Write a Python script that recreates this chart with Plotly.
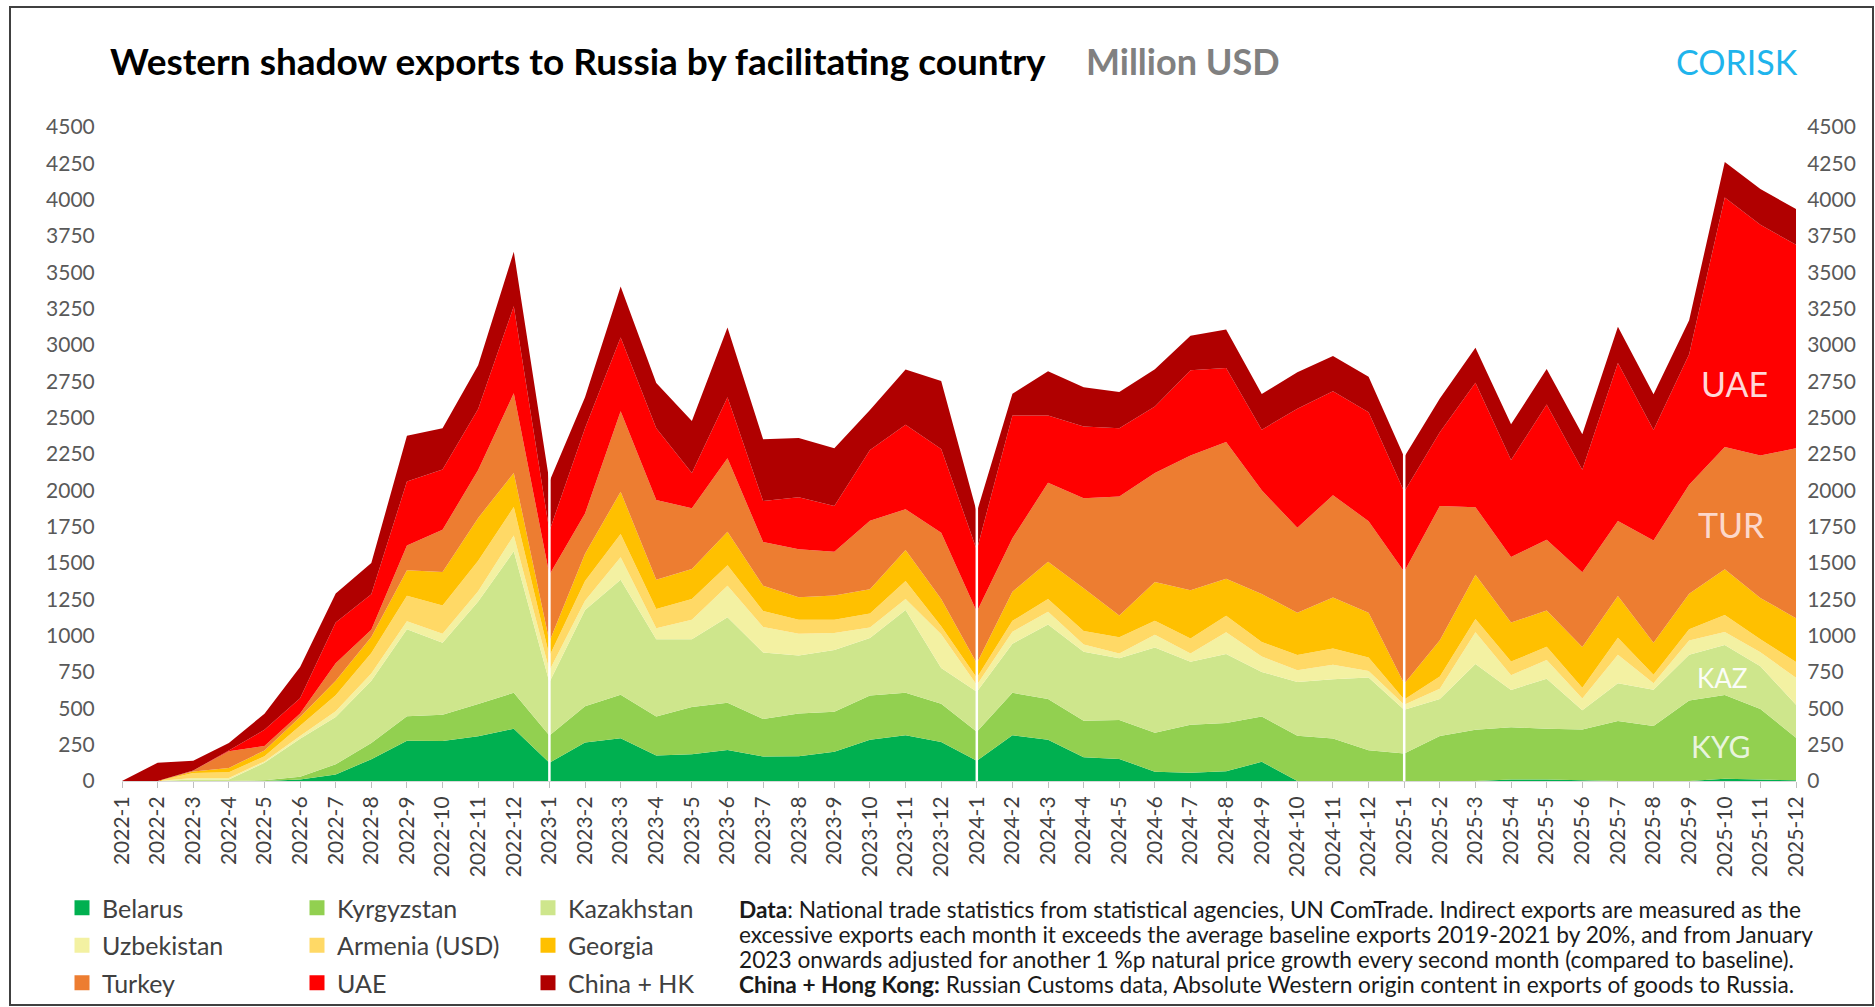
import plotly.graph_objects as go

# Monthly categories, 2022-1 .. 2025-12
months = [
    "2022-1", "2022-2", "2022-3", "2022-4", "2022-5", "2022-6", "2022-7", "2022-8", "2022-9", "2022-10", "2022-11", "2022-12",
    "2023-1", "2023-2", "2023-3", "2023-4", "2023-5", "2023-6", "2023-7", "2023-8", "2023-9", "2023-10", "2023-11", "2023-12",
    "2024-1", "2024-2", "2024-3", "2024-4", "2024-5", "2024-6", "2024-7", "2024-8", "2024-9", "2024-10", "2024-11", "2024-12",
    "2025-1", "2025-2", "2025-3", "2025-4", "2025-5", "2025-6", "2025-7", "2025-8", "2025-9", "2025-10", "2025-11", "2025-12",
]

# Western-origin exports to Russia routed via each country, million USD
belarus = [0, 0, 0, 0, 0, 10, 45, 150, 277, 275, 308, 360,
           125, 265, 295, 176, 184, 214, 169, 170, 202, 284, 314, 269,
           139, 314, 284, 164, 152, 64, 57, 67, 132, 0, 0, 0,
           0, 0, 0, 10, 10, 5, 0, 0, 0, 15, 10, 5]
kyrgyzstan = [0, 0, 0, 0, 5, 20, 70, 112, 168, 180, 222, 247,
              188, 250, 299, 268, 325, 325, 258, 294, 275, 305, 293, 263,
              200, 293, 280, 250, 267, 268, 330, 332, 312, 312, 292, 212,
              190, 309, 353, 359, 350, 349, 413, 378, 554, 577, 485, 293]
kazakhstan = [0, 0, 10, 10, 120, 260, 325, 428, 600, 497, 705, 973,
              367, 661, 790, 532, 467, 588, 457, 400, 425, 395, 570, 245,
              275, 337, 513, 475, 425, 587, 433, 475, 306, 370, 408, 500,
              300, 255, 452, 258, 344, 132, 259, 250, 315, 344, 294, 227]
uzbekistan = [0, 0, 10, 10, 10, 20, 40, 50, 55, 62, 70, 110,
              80, 64, 156, 75, 133, 217, 175, 150, 117, 73, 75, 232,
              46, 83, 87, 50, 33, 88, 57, 150, 107, 80, 100, 45,
              35, 70, 219, 101, 129, 82, 197, 44, 97, 89, 97, 185]
armenia = [0, 0, 35, 40, 35, 70, 110, 140, 175, 194, 210, 196,
           100, 137, 160, 133, 143, 140, 110, 95, 90, 95, 125, 55,
           50, 75, 88, 93, 112, 95, 103, 113, 100, 105, 112, 92,
           35, 85, 91, 94, 90, 74, 117, 59, 79, 117, 89, 109]
georgia = [0, 0, 10, 30, 40, 60, 100, 110, 175, 230, 295, 234,
           100, 187, 290, 200, 207, 231, 175, 155, 168, 168, 212, 188,
           100, 200, 257, 295, 150, 267, 332, 255, 330, 290, 350, 308,
           110, 250, 304, 268, 250, 280, 287, 220, 244, 315, 285, 301]
turkey = [0, 0, 7, 115, 30, 25, 120, 50, 170, 290, 330, 548,
          460, 276, 555, 550, 418, 505, 300, 330, 300, 470, 281, 457,
          354, 368, 543, 618, 818, 750, 928, 940, 713, 585, 705, 630,
          770, 923, 465, 451, 487, 514, 516, 704, 749, 841, 979, 1169]
uae = [0, 0, 0, 5, 112, 105, 280, 245, 440, 415, 420, 599,
       300, 587, 507, 493, 242, 420, 283, 358, 315, 487, 582, 575,
       426, 845, 463, 495, 470, 458, 586, 510, 417, 820, 715, 750,
       550, 508, 856, 667, 930, 706, 1088, 760, 898, 1717, 1588, 1401]
china_hk = [0, 125, 68, 52, 111, 215, 200, 215, 315, 285, 300, 375,
            340, 213, 350, 312, 358, 480, 425, 408, 398, 275, 380, 468,
            260, 150, 304, 270, 250, 257, 237, 265, 245, 250, 243, 245,
            240, 232, 241, 246, 245, 244, 249, 246, 235, 244, 247, 245]

series_names = ["Belarus", "Kyrgyzstan", "Kazakhstan", "Uzbekistan", "Armenia (USD)",
                "Georgia", "Turkey", "UAE", "China + HK"]
series_values = [belarus, kyrgyzstan, kazakhstan, uzbekistan, armenia,
                 georgia, turkey, uae, china_hk]
series_colors = ["#00b050", "#92d050", "#cee68c", "#f3f1a2", "#ffd966",
                 "#ffc000", "#ed7d31", "#ff0000", "#b00000"]
# legend column for each series (three columns of three)
legend_ids = ["legend", "legend2", "legend3", "legend", "legend2",
              "legend3", "legend", "legend2", "legend3"]

year_breaks = ["2023-1", "2024-1", "2025-1"]
y_ticks = [0, 250, 500, 750, 1000, 1250, 1500, 1750, 2000, 2250, 2500,
           2750, 3000, 3250, 3500, 3750, 4000, 4250, 4500]

source_lines = [
    "<b>Data</b>: National trade statistics from statistical agencies, UN ComTrade. "
    "Indirect exports are measured as the",
    "excessive exports each month it exceeds the average baseline exports 2019-2021 "
    "by 20%, and from January",
    "2023 onwards adjusted for another 1 %p natural price growth every second month "
    "(compared to baseline).",
    "<b>China + Hong Kong:</b> Russian Customs data, Absolute Western origin content "
    "in exports of goods to Russia.",
]

W, H = 1875, 1007
L, R, T, B = 122, 79, 127, 226
PW, PH = W - L - R, H - T - B


def px(xp):
    return (xp - L) / PW


def py(yp):
    return (H - B - yp) / PH


FONT = "Lato"
fig = go.Figure()

for name, vals, col in zip(series_names, series_values, series_colors):
    fig.add_trace(go.Scatter(
        x=months, y=vals, name=name, stackgroup="one", mode="none",
        fillcolor=col, line=dict(width=0), showlegend=False,
        hovertemplate="%{x}: %{y}<extra>" + name + "</extra>",
    ))

# square legend keys
for name, col, lg in zip(series_names, series_colors, legend_ids):
    fig.add_trace(go.Scatter(
        x=[None], y=[None], name=name, mode="markers", yaxis="y2",
        marker=dict(symbol="square", size=15, color=col),
        legend=lg, legendgroup=name, showlegend=True,
    ))

shapes = []
for m in year_breaks:
    shapes.append(dict(type="line", xref="x", yref="y", x0=m, x1=m, y0=0, y1=y_ticks[-1],
                       line=dict(color="white", width=2.5), layer="above"))
# outer frame
shapes.append(dict(type="rect", xref="paper", yref="paper",
                   x0=px(10), x1=px(1873), y0=py(7), y1=py(1005),
                   line=dict(color="#404040", width=2), fillcolor="rgba(0,0,0,0)"))

annotations = [
    dict(text="<b>Western shadow exports to Russia by facilitating country</b>",
         x=px(108), y=py(61), xanchor="left", yanchor="middle",
         font=dict(family=FONT, size=37, color="#000000")),
    dict(text="<b>Million USD</b>",
         x=px(1084), y=py(61), xanchor="left", yanchor="middle",
         font=dict(family=FONT, size=36, color="#808080")),
    dict(text="CORISK",
         x=px(1800), y=py(62), xanchor="right", yanchor="middle",
         font=dict(family=FONT, size=34, color="#1fb4ec")),
    dict(text="UAE", x=px(1734), y=py(383), xanchor="center", yanchor="middle",
         font=dict(family=FONT, size=34, color="rgba(255,255,255,0.85)")),
    dict(text="TUR", x=px(1731), y=py(524), xanchor="center", yanchor="middle",
         font=dict(family=FONT, size=34, color="rgba(255,230,225,0.9)")),
    dict(text="KAZ", x=px(1722), y=py(678), xanchor="center", yanchor="middle",
         font=dict(family=FONT, size=26, color="rgba(255,255,255,0.95)")),
    dict(text="KYG", x=px(1720), y=py(746), xanchor="center", yanchor="middle",
         font=dict(family=FONT, size=30, color="rgba(245,250,240,0.9)")),
]
# source note, one annotation per line for tight line spacing
for k, line in enumerate(source_lines):
    annotations.append(dict(text=line, x=px(737), y=py(909 + 25.3 * k),
                            xanchor="left", yanchor="middle", align="left",
                            font=dict(family=FONT, size=22.7, color="#1a1a1a")))

axis_font = dict(family=FONT, size=21, color="#595959")
legend_common = dict(orientation="v", xanchor="left", yanchor="top", traceorder="grouped",
                     tracegroupgap=2, bgcolor="rgba(0,0,0,0)",
                     font=dict(family=FONT, size=25, color="#404040"), itemwidth=30)

fig.update_layout(
    width=W, height=H,
    margin=dict(l=L, r=R, t=T, b=B, autoexpand=False),
    paper_bgcolor="white", plot_bgcolor="white",
    showlegend=True,
    xaxis=dict(type="category", categoryorder="array", categoryarray=months,
               range=[0, len(months) - 1], tickangle=-90, showgrid=False,
               ticks="outside", ticklen=6, tickcolor="#bfbfbf",
               showline=True, linecolor="#d9d9d9", linewidth=1,
               tickfont=dict(family=FONT, size=21, color="#404040"), zeroline=False),
    yaxis=dict(range=[0, y_ticks[-1]], tickvals=y_ticks, showgrid=False, zeroline=False,
               ticks="outside", ticklen=22, tickcolor="rgba(0,0,0,0)", tickfont=axis_font),
    yaxis2=dict(range=[0, y_ticks[-1]], tickvals=y_ticks, overlaying="y", side="right",
                showgrid=False, zeroline=False, ticks="outside", ticklen=6,
                tickcolor="rgba(0,0,0,0)", tickfont=axis_font),
    legend=dict(x=px(62), y=py(885), **legend_common),
    legend2=dict(x=px(297), y=py(885), **legend_common),
    legend3=dict(x=px(528), y=py(885), **legend_common),
    shapes=shapes,
    annotations=[dict(a, xref="paper", yref="paper", showarrow=False) for a in annotations],
)

fig.write_html("out.html")
